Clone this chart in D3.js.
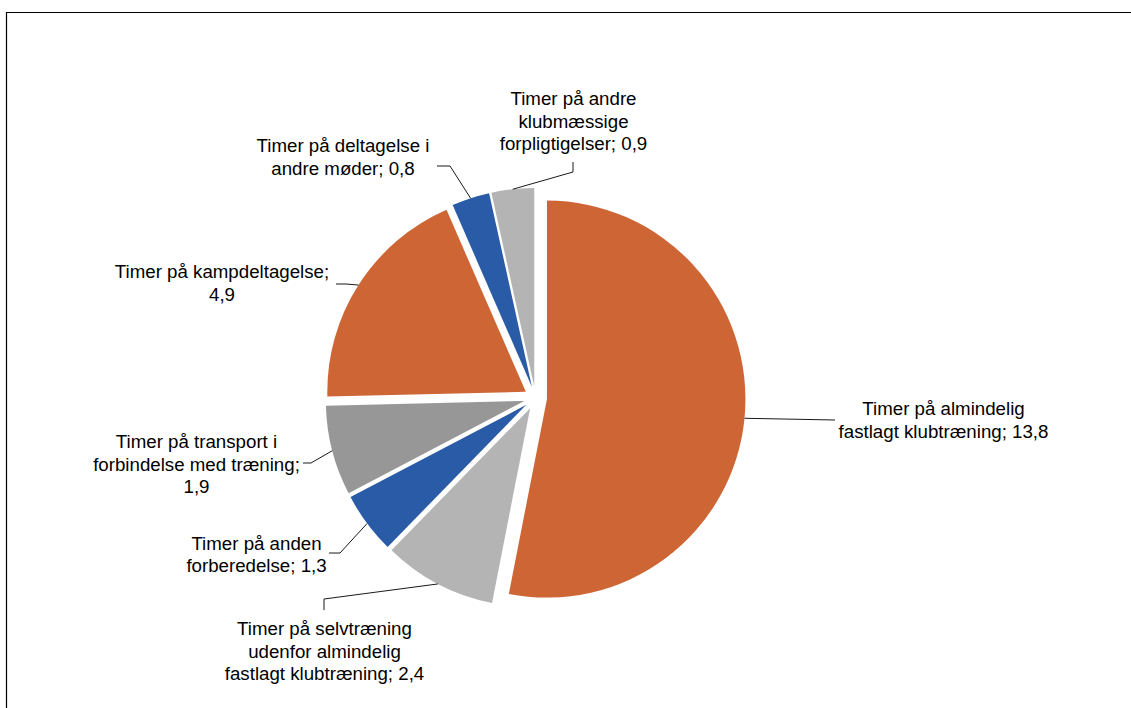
<!DOCTYPE html>
<html>
<head>
<meta charset="utf-8">
<script src="https://cdn.jsdelivr.net/npm/d3@7/dist/d3.min.js"></script>
<style>
  html, body { margin: 0; padding: 0; background: #fff; }
  svg { display: block; }
  text { font-family: "Liberation Sans", Arial, Helvetica, sans-serif; }
</style>
</head>
<body>
<svg id="chart" width="1131" height="708"></svg>
<script>
// ---- data ----
const categories = [
  "Timer på almindelig fastlagt klubtræning",
  "Timer på selvtræning udenfor almindelig fastlagt klubtræning",
  "Timer på anden forberedelse",
  "Timer på transport i forbindelse med træning",
  "Timer på kampdeltagelse",
  "Timer på deltagelse i andre møder",
  "Timer på andre klubmæssige forpligtigelser"
];
const values = [13.8, 2.4, 1.3, 1.9, 4.9, 0.8, 0.9];
const valueLabels = ["13,8", "2,4", "1,3", "1,9", "4,9", "0,8", "0,9"];
const labelLines = [
  ["Timer på almindelig", "fastlagt klubtræning; 13,8"],
  ["Timer på selvtræning", "udenfor almindelig", "fastlagt klubtræning; 2,4"],
  ["Timer på anden", "forberedelse; 1,3"],
  ["Timer på transport i", "forbindelse med træning;", "1,9"],
  ["Timer på kampdeltagelse;", "4,9"],
  ["Timer på deltagelse i", "andre møder; 0,8"],
  ["Timer på andre", "klubmæssige", "forpligtigelser; 0,9"]
];
const colors = ["#CD6634", "#B4B4B4", "#2A5BA7", "#979797", "#CD6634", "#2A5BA7", "#B4B4B4"];

// ---- layout ----
const W = 1131, H = 708;
const cx = 535.5, cy = 398, R = 198.5, explode = 11.5;
const fontSize = 18.7, lineH = 22.5;
// label layout: center x, first baseline y, leader elbow points (from label side)
const labelLayout = [
  {x: 943.5, y: 415,   leader: [[835, 420]]},
  {x: 324.5, y: 635,   leader: [[324, 610], [324, 599]]},
  {x: 256.5, y: 549.5, leader: [[329, 553], [340, 553]]},
  {x: 196.5, y: 448,   leader: [[303, 463], [311, 463]]},
  {x: 222,   y: 278,   leader: [[336, 284], [346, 284]]},
  {x: 343,   y: 152,   leader: [[437, 166], [450, 166]]},
  {x: 573.5, y: 105,   leader: [[573, 162], [573, 172]]}
];

const svg = d3.select("#chart");

// frame (top and left edges visible)
svg.append("path")
  .attr("d", `M6.5,${H + 5} L6.5,12.5 L${W + 5},12.5`)
  .attr("fill", "none").attr("stroke", "#000").attr("stroke-width", 1.2);

const pie = d3.pie().sort(null).value(d => d).startAngle(0).endAngle(2 * Math.PI);
const arcs = pie(values);
const arcGen = d3.arc().innerRadius(0).outerRadius(R);

const g = svg.append("g").attr("transform", `translate(${cx},${cy})`);

arcs.forEach((a, i) => {
  const m = (a.startAngle + a.endAngle) / 2;
  const ox = explode * Math.sin(m), oy = -explode * Math.cos(m);
  g.append("path")
    .attr("d", arcGen(a))
    .attr("transform", `translate(${ox},${oy})`)
    .attr("fill", colors[i]);
});

// leader lines
arcs.forEach((a, i) => {
  const m = (a.startAngle + a.endAngle) / 2;
  const px = cx + (explode + R) * Math.sin(m);
  const py = cy - (explode + R) * Math.cos(m);
  const pts = labelLayout[i].leader.concat([[px, py]]);
  svg.append("path")
    .attr("d", d3.line()(pts))
    .attr("fill", "none")
    .attr("stroke", "#1a1a1a")
    .attr("stroke-width", 1);
});

// labels
labelLines.forEach((lines, i) => {
  const L = labelLayout[i];
  const t = svg.append("text")
    .attr("text-anchor", "middle")
    .attr("font-size", fontSize)
    .attr("fill", "#000");
  lines.forEach((ln, k) => {
    t.append("tspan").attr("x", L.x).attr("y", L.y + k * lineH).text(ln);
  });
});
</script>
</body>
</html>
